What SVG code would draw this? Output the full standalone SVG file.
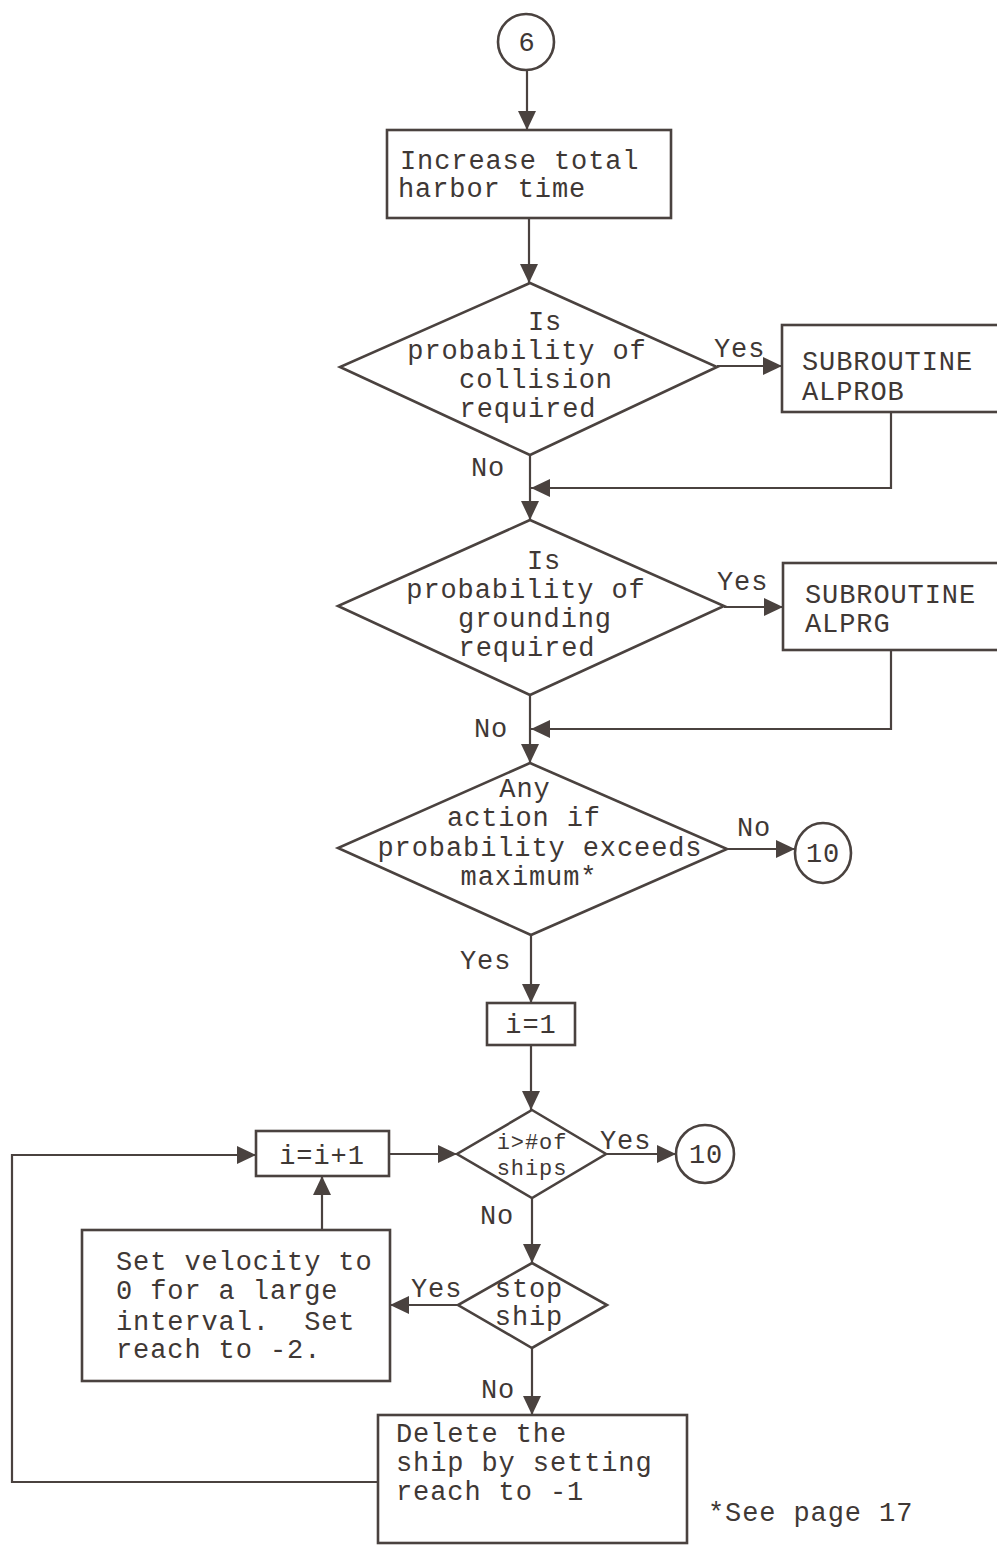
<svg xmlns="http://www.w3.org/2000/svg" width="997" height="1545" viewBox="0 0 997 1545">
  <style>
    .shape { fill: none; stroke: #4a423f; stroke-width: 2.6; }
    .conn { fill: none; stroke: #4a423f; stroke-width: 2.2; }
    text { font-family: "Liberation Mono", "DejaVu Sans Mono", monospace; font-size: 27px; fill: #3f3835; letter-spacing: 0.9px; white-space: pre; }
    .mid { text-anchor: middle; }
    .small { font-size: 22px; letter-spacing: 0.9px; }
  </style>
  <defs>
    <marker id="arrow" markerUnits="userSpaceOnUse" markerWidth="20" markerHeight="18" refX="19" refY="9" orient="auto">
      <path d="M0,0 L19,9 L0,18 z" fill="#4a423f"/>
    </marker>
  </defs>
  <rect width="997" height="1545" fill="#ffffff"/>

  <!-- connectors -->
  <g id="connectors" marker-end="url(#arrow)">
    <path class="conn" d="M527,70 V130"/>
    <path class="conn" d="M529,218 V283"/>
    <path class="conn" d="M717,366 H782"/>
    <path class="conn" d="M530,455 V520"/>
    <path class="conn" d="M891,412 V488 H531"/>
    <path class="conn" d="M724,607 H783"/>
    <path class="conn" d="M530,695 V763"/>
    <path class="conn" d="M891,650 V729 H531"/>
    <path class="conn" d="M727,849 H795"/>
    <path class="conn" d="M531,935 V1003"/>
    <path class="conn" d="M531,1045 V1110"/>
    <path class="conn" d="M606,1154 H676"/>
    <path class="conn" d="M389,1154 H457"/>
    <path class="conn" d="M378,1482 H12 V1155 H256"/>
    <path class="conn" d="M322,1230 V1176"/>
    <path class="conn" d="M532,1198 V1263"/>
    <path class="conn" d="M458,1305 H390"/>
    <path class="conn" d="M532,1348 V1415"/>
  </g>

  <!-- connector labels -->
  <g id="labels">
    <text x="714" y="357">Yes</text>
    <text x="471" y="476">No</text>
    <text x="717" y="590">Yes</text>
    <text x="474" y="737">No</text>
    <text x="737" y="836">No</text>
    <text x="460" y="969">Yes</text>
    <text x="600" y="1149">Yes</text>
    <text x="480" y="1224">No</text>
    <text x="411" y="1297">Yes</text>
    <text x="481" y="1398">No</text>
  </g>

  <g id="start6">
    <ellipse class="shape" cx="526" cy="42" rx="28" ry="28"/>
    <text class="mid" x="527" y="51">6</text>
  </g>

  <g id="harbor-time">
    <rect class="shape" x="387" y="130" width="284" height="88"/>
    <text x="400" y="169">Increase total</text>
    <text x="398" y="197">harbor time</text>
  </g>

  <g id="collision-decision">
    <polygon class="shape" points="530,283 717,367 530,455 340,367"/>
    <text class="mid" x="545" y="330">Is</text>
    <text class="mid" x="527" y="359">probability of</text>
    <text class="mid" x="536" y="388">collision</text>
    <text class="mid" x="528" y="417">required</text>
  </g>

  <g id="alprob">
    <rect class="shape" x="782" y="325" width="220" height="87"/>
    <text x="802" y="370">SUBROUTINE</text>
    <text x="802" y="400">ALPROB</text>
  </g>

  <g id="grounding-decision">
    <polygon class="shape" points="530,520 724,606 530,695 338,606"/>
    <text class="mid" x="544" y="569">Is</text>
    <text class="mid" x="526" y="598">probability of</text>
    <text class="mid" x="535" y="627">grounding</text>
    <text class="mid" x="527" y="656">required</text>
  </g>

  <g id="alprg">
    <rect class="shape" x="783" y="563" width="219" height="87"/>
    <text x="805" y="603">SUBROUTINE</text>
    <text x="805" y="632">ALPRG</text>
  </g>

  <g id="action-decision">
    <polygon class="shape" points="530,763 727,849 531,935 338,848"/>
    <text class="mid" x="525" y="797">Any</text>
    <text class="mid" x="524" y="826">action if</text>
    <text class="mid" x="540" y="856">probability exceeds</text>
    <text class="mid" x="529" y="885">maximum*</text>
  </g>

  <g id="exit10-a">
    <ellipse class="shape" cx="823" cy="853" rx="28" ry="30"/>
    <text class="mid" x="823" y="862">10</text>
  </g>

  <g id="init-i">
    <rect class="shape" x="487" y="1003" width="88" height="42"/>
    <text class="mid" x="531" y="1033">i=1</text>
  </g>

  <g id="ships-decision">
    <polygon class="shape" points="532,1110 606,1154 532,1198 457,1154"/>
    <text class="mid small" x="532" y="1149">i&gt;#of</text>
    <text class="mid small" x="532" y="1175">ships</text>
  </g>

  <g id="exit10-b">
    <ellipse class="shape" cx="705" cy="1154" rx="29" ry="29"/>
    <text class="mid" x="706" y="1163">10</text>
  </g>

  <g id="increment-i">
    <rect class="shape" x="256" y="1131" width="133" height="45"/>
    <text class="mid" x="322" y="1164">i=i+1</text>
  </g>

  <g id="stop-decision">
    <polygon class="shape" points="532,1263 607,1305 532,1348 458,1305"/>
    <text class="mid" x="529" y="1297">stop</text>
    <text class="mid" x="529" y="1325">ship</text>
  </g>

  <g id="stop-ship">
    <rect class="shape" x="82" y="1230" width="308" height="151"/>
    <text x="116" y="1270">Set velocity to</text>
    <text x="116" y="1299">0 for a large</text>
    <text x="116" y="1330" xml:space="preserve">interval.  Set</text>
    <text x="116" y="1358">reach to -2.</text>
  </g>

  <g id="delete-ship">
    <rect class="shape" x="378" y="1415" width="309" height="128"/>
    <text x="396" y="1442">Delete the</text>
    <text x="396" y="1471">ship by setting</text>
    <text x="396" y="1500">reach to -1</text>
  </g>

  <g id="footnote">
    <text x="708" y="1521">*See page 17</text>
  </g>
</svg>
